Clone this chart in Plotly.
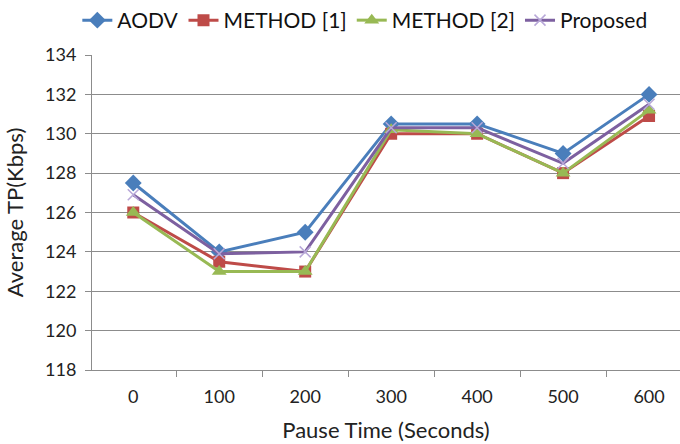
import plotly.graph_objects as go

pause_time = ["0", "100", "200", "300", "400", "500", "600"]
aodv = [127.5, 124.0, 125.0, 130.5, 130.5, 129.0, 132.0]
method1 = [126.0, 123.5, 123.0, 130.0, 130.0, 128.0, 130.9]
method2 = [126.0, 123.0, 123.0, 130.2, 130.0, 128.0, 131.2]
proposed = [126.9, 123.9, 124.0, 130.3, 130.3, 128.5, 131.5]
y_ticks = [118, 120, 122, 124, 126, 128, 130, 132, 134]

font = "Lato, 'Open Sans', sans-serif"

fig = go.Figure()
series = [
    ("AODV", aodv, "#4A7EBB", dict(symbol="diamond", size=13, color="#4A7EBB")),
    ("METHOD [1]", method1, "#BE4B48", dict(symbol="square", size=12, color="#BE4B48")),
    ("METHOD [2]", method2, "#98B954", dict(symbol="triangle-up", size=13, color="#98B954")),
    ("Proposed", proposed, "#7D60A0", dict(symbol="x-thin-open", size=11, color="#B8A8D8",
                                            line=dict(width=1.5, color="#B8A8D8"))),
]
for name, vals, col, mk in series:
    fig.add_trace(go.Scatter(x=pause_time, y=vals, name=name, mode="lines+markers",
                             line=dict(color=col, width=3), marker=mk))

fig.update_layout(
    width=680, height=444,
    margin=dict(l=92, r=0, t=54, b=74),
    paper_bgcolor="white", plot_bgcolor="white",
    font=dict(family=font, size=18, color="#222222"),
    showlegend=True,
    legend=dict(orientation="h", x=0.464, xanchor="center", y=1.108, yanchor="middle",
                font=dict(size=21, color="#111111"), itemwidth=30, tracegroupgap=0),
    xaxis=dict(
        type="category", range=[-0.48, 6.36],
        tickson="boundaries", ticks="outside", ticklen=6, tickcolor="#8C8C8C",
        showline=True, linecolor="#8C8C8C", linewidth=1,
        showgrid=False, tickfont=dict(size=18), ticklabelstandoff=10,
        title=dict(text="Pause Time (Seconds)", font=dict(size=22), standoff=17),
    ),
    yaxis=dict(
        range=[118, 134], tickvals=y_ticks, ticks="outside", ticklen=6, tickcolor="#8C8C8C",
        showline=True, linecolor="#8C8C8C", linewidth=1,
        showgrid=True, gridcolor="#8C8C8C", gridwidth=1, zeroline=False,
        tickfont=dict(size=18), ticklabelstandoff=5,
        title=dict(text="Average TP(Kbps)", font=dict(size=22), standoff=15),
    ),
)

fig.write_html("out.html")
